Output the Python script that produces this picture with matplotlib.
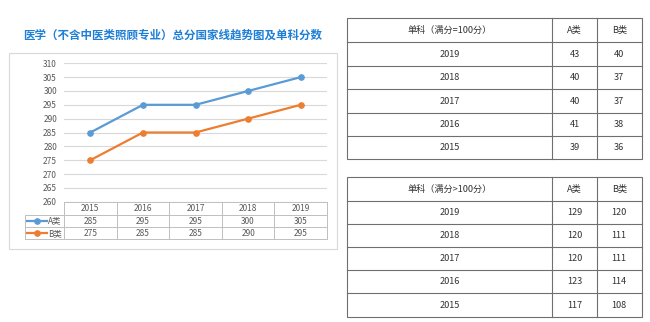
import matplotlib
matplotlib.use("Agg")
import matplotlib.pyplot as plt
from matplotlib.patches import Rectangle
from matplotlib.transforms import blended_transform_factory

plt.rcParams['font.family'] = ['Noto Sans CJK SC', 'DejaVu Sans']

# data
years = ['2015', '2016', '2017', '2018', '2019']
total_a = [285, 295, 295, 300, 305]
total_b = [275, 285, 285, 290, 295]

single_years = ['2019', '2018', '2017', '2016', '2015']
single100_a = [43, 40, 40, 41, 39]
single100_b = [40, 37, 37, 38, 36]
single_over_a = [129, 120, 120, 123, 117]
single_over_b = [120, 111, 111, 114, 108]

title = '医学（不含中医类照顾专业）总分国家线趋势图及单科分数'
blue = '#5B9BD5'
orange = '#ED7D31'
W, H = 650, 322

fig = plt.figure(figsize=(6.5, 3.22), dpi=100)

# overlay in pixel coordinates for frames and tables
ov = fig.add_axes([0, 0, 1, 1])
ov.set_xlim(0, W)
ov.set_ylim(H, 0)
ov.axis('off')

# line chart
ax = fig.add_axes([64 / W, 1 - 201.7 / H, (327 - 64) / W, (201.7 - 63.3) / H])
x = list(range(len(years)))
ax.plot(x, total_a, color=blue, lw=1.6, marker='o', ms=3.8, zorder=3)
ax.plot(x, total_b, color=orange, lw=1.6, marker='o', ms=3.8, zorder=3)
ax.set_xlim(-0.5, len(years) - 0.5)
ax.set_ylim(260, 310)
ax.set_yticks(range(260, 311, 5))
ax.set_xticks([])
ax.grid(axis='y', color='#D9D9D9', lw=0.8)
ax.set_axisbelow(True)
for s in ax.spines.values():
    s.set_visible(False)
ax.tick_params(axis='y', length=0, labelsize=6, labelcolor='#595959', pad=5)

# chart frame and title
ov.add_patch(Rectangle((9, 53), 328, 196, fill=False, ec='#D9D9D9', lw=0.8))
ov.text(173, 35, title, ha='center', va='center', fontsize=8.3,
        fontweight='bold', color='#1E7FD6')

# data table under the chart
tr = blended_transform_factory(ax.transData, ov.transData)
grid_c = '#BFBFBF'
row_y = [201.7, 215, 227, 239.3]
ov.plot([64, 327], [201.7, 201.7], color=grid_c, lw=0.7)
for yy in row_y[1:]:
    ov.plot([25, 327], [yy, yy], color=grid_c, lw=0.7)
ov.plot([25, 25], [215, 239.3], color=grid_c, lw=0.7)
for i in range(len(years) + 1):
    ax_x = i - 0.5
    ov.plot([ax_x, ax_x], [201.7, 239.3], color=grid_c, lw=0.7, transform=tr)
for i, yr in enumerate(years):
    ov.text(i, 208.5, yr, transform=tr, ha='center', va='center',
            fontsize=6, color='#595959')
    ov.text(i, 221, str(total_a[i]), transform=tr, ha='center', va='center',
            fontsize=6, color='#595959')
    ov.text(i, 233.2, str(total_b[i]), transform=tr, ha='center', va='center',
            fontsize=6, color='#595959')
for yy, c, lab in [(221, blue, 'A类'), (233.2, orange, 'B类')]:
    ov.plot([27, 47], [yy, yy], color=c, lw=1.6)
    ov.plot([37], [yy], marker='o', ms=3.8, color=c)
    ov.text(48, yy, lab, ha='left', va='center', fontsize=6, color='#595959')


def draw_table(top, rows, header, col_a, col_b):
    xs = [347.3, 552.3, 596.7, 641.7]
    line_c = '#6F6F6F'
    bottom = rows[-1]
    ov.add_patch(Rectangle((xs[0], top), xs[-1] - xs[0], bottom - top,
                           fill=False, ec=line_c, lw=0.8))
    for xx in xs[1:-1]:
        ov.plot([xx, xx], [top, bottom], color=line_c, lw=0.8)
    ys = [top] + rows
    for yy in rows[:-1]:
        ov.plot([xs[0], xs[-1]], [yy, yy], color=line_c, lw=0.8)
    cx = [(xs[0] + xs[1]) / 2, (xs[1] + xs[2]) / 2, (xs[2] + xs[3]) / 2]
    yc = (ys[0] + ys[1]) / 2
    for t, xx in zip([header, 'A类', 'B类'], cx):
        ov.text(xx, yc, t, ha='center', va='center', fontsize=6.6, color='#333333')
    for k in range(len(single_years)):
        yc = (ys[k + 1] + ys[k + 2]) / 2
        ov.text(cx[0], yc, single_years[k], ha='center', va='center',
                fontsize=6.6, color='#333333')
        ov.text(cx[1], yc, str(col_a[k]), ha='center', va='center',
                fontsize=6.6, color='#333333')
        ov.text(cx[2], yc, str(col_b[k]), ha='center', va='center',
                fontsize=6.6, color='#333333')


draw_table(18.3, [42.3, 66, 89.3, 112.7, 136, 159],
           '单科（满分=100分）', single100_a, single100_b)
draw_table(177.3, [200.7, 223.7, 247, 270, 293.3, 316.7],
           '单科（满分>100分）', single_over_a, single_over_b)

fig.savefig('out.png', dpi=100)
